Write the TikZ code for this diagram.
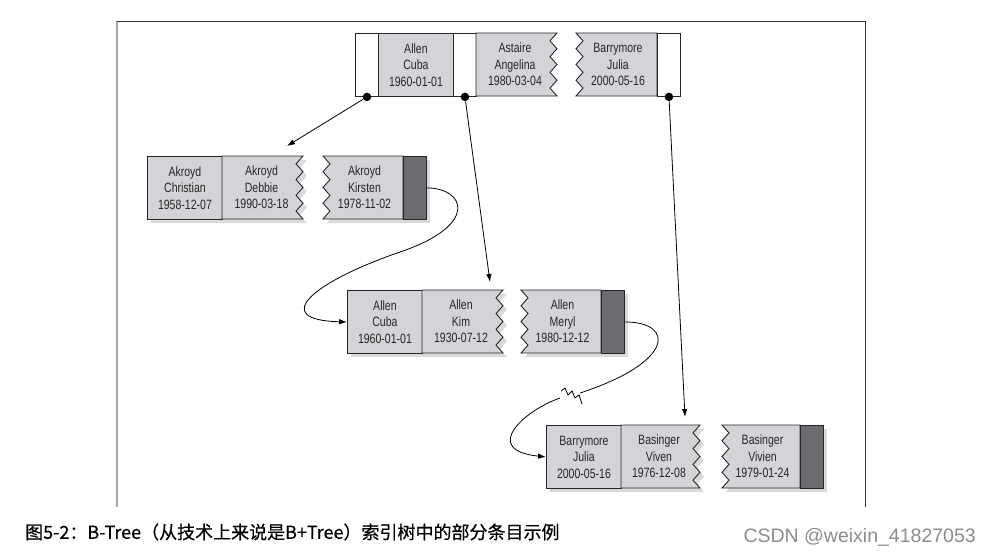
\documentclass[tikz,border=0pt]{standalone}
\usepackage{fontspec}
\usepackage{tikz}
\usetikzlibrary{arrows.meta, shadows}
\newfontfamily\cellfont[FakeStretch=0.78]{Liberation Sans}
\newfontfamily\markfont{Liberation Sans}
\newfontfamily\cjk[FakeBold=0.5]{Noto Sans CJK SC}
\definecolor{keygray}{HTML}{D2D4D7}
\definecolor{ptrdark}{HTML}{6A6C6F}

% key cell torn on the right: [style] left, tear x, top, bottom
\newcommand{\tornR}[5][]{%
  \filldraw[cellline, fill=keygray, #1] (#2,#4) -- ({#3+3},#4)
    \foreach \i/\d in {1/-4,2/3,3/-4,4/3,5/-4,6/3,7/-4} {-- ({#3+\d},{#4+\i*(#5-#4)/8})}
    -- ({#3+3},#5) -- (#2,#5) -- cycle;}
% key cell torn on the left: [style] tear x, right, top, bottom
\newcommand{\tornL}[5][]{%
  \filldraw[cellline, fill=keygray, #1] (#3,#4) -- ({#2-3},#4)
    \foreach \i/\d in {1/4,2/-3,3/4,4/-3,5/4,6/-3,7/4} {-- ({#2+\d},{#4+\i*(#5-#4)/8})}
    -- ({#2-3},#5) -- (#3,#5) -- cycle;}

\begin{document}
\begin{tikzpicture}[x=1pt, y=-1pt, >={Latex[length=8pt, width=5.5pt]},
    cellline/.style={draw=black!85, line width=0.9pt},
    shdw/.style={drop shadow={opacity=0.3, shadow xshift=4pt, shadow yshift=-4pt}},
    cellfontsize/.style={font=\cellfont\fontsize{13.5}{16.5}\selectfont, text=black!85},
    ptr/.style={cellline, fill=white, anchor=north west, minimum width=23pt, minimum height=63pt, inner sep=0pt},
    dark/.style={ptr, fill=ptrdark},
    key/.style={cellline, fill=keygray, anchor=north west, minimum width=75pt, minimum height=63pt, inner sep=0pt, align=center, cellfontsize},
    txt/.style={inner sep=0pt, align=center, cellfontsize},
    dot/.style={circle, fill=black, inner sep=0pt, minimum size=8.5pt},
    arr/.style={->, line width=0.8pt}]
    \useasboundingbox (0,0) rectangle (991,557);

    % Frame
    \draw[black!35, line width=1.2pt] (117,21) -- (117,507);
    \draw[black!80, line width=1pt] (117,21) -- (865,21) -- (865,507);

    % Root node
    \node[ptr] (t0) at (355,33) {};
    \node[key] (t1) at (378,33) {Allen\\Cuba\\1960-01-01};
    \node[ptr] (t2) at (453,33) {};
    \tornR{476}{554}{33}{96}
    \node[txt] (t3) at (515,64.5) {Astaire\\Angelina\\1980-03-04};
    \tornL{579}{657}{33}{96}
    \node[txt] (t4) at (618,64.5) {Barrymore\\Julia\\2000-05-16};
    \node[ptr] (t5) at (657,33) {};

    % Leaf: Akroyd
    \node[key, shdw] (a1) at (147,156) {Akroyd\\Christian\\1958-12-07};
    \tornR[shdw]{222}{300}{156}{219}
    \node[txt] (a2) at (261.5,187.5) {Akroyd\\Debbie\\1990-03-18};
    \tornL[shdw]{326}{403}{156}{219}
    \node[txt] (a3) at (364.5,187.5) {Akroyd\\Kirsten\\1978-11-02};
    \node[dark, shdw] (a4) at (403,156) {};

    % Leaf: Allen
    \node[key, shdw] (b1) at (347,290) {Allen\\Cuba\\1960-01-01};
    \tornR[shdw]{422}{500}{290}{353}
    \node[txt] (b2) at (461,321.5) {Allen\\Kim\\1930-07-12};
    \tornL[shdw]{524}{601}{290}{353}
    \node[txt] (b3) at (562.5,321.5) {Allen\\Meryl\\1980-12-12};
    \node[dark, shdw] (b4) at (601,290) {};

    % Leaf: Barrymore / Basinger
    \node[key, shdw] (c1) at (546,425) {Barrymore\\Julia\\2000-05-16};
    \tornR[shdw]{621}{697}{425}{488}
    \node[txt] (c2) at (659,456.5) {Basinger\\Viven\\1976-12-08};
    \tornL[shdw]{725}{800}{425}{488}
    \node[txt] (c3) at (762.5,456.5) {Basinger\\Vivien\\1979-01-24};
    \node[dark, shdw] (c4) at (800,425) {};

    % Pointers
    \node[dot] (d1) at (t0.south) {};
    \node[dot] (d2) at (t2.south) {};
    \node[dot] (d3) at (t5.south) {};
    \coordinate (e1) at (287,146);
    \coordinate (e2) at (490,282);
    \coordinate (e3) at (685,417);
    \draw[arr] (d1) -- (e1);
    \draw[arr] (d2) -- (e2);
    \draw[arr] (d3) -- (e3);

    % Leaf links
    \draw[arr] (a4.east) .. controls (465,188) and (480,225) .. (400,252)
        .. controls (310,283) and (270,320) .. (b1.west);
    \coordinate (g1) at (580,393);
    \coordinate (g2) at (560,398);
    \draw[line width=0.8pt] (b4.east) .. controls (675,322) and (675,362) .. (g1);
    \draw[line width=0.8pt] (561,391) -- (565,388) -- (568,395) -- (572,391) -- (575,398) -- (579,395) -- (582,404);
    \draw[arr] (g2) .. controls (525,410) and (480,450) .. (c1.west);

    % Caption
    \node[anchor=west, inner sep=0pt, font=\cjk\fontsize{18}{20}\selectfont] (cap) at (25,532)
        {图5-2：B-Tree（从技术上来说是B+Tree）索引树中的部分条目示例};
    \node[anchor=east, inner sep=0pt, text=black!45, font=\markfont\fontsize{19.5}{21}\selectfont] (mark) at (976,537)
        {CSDN @weixin\_41827053};
\end{tikzpicture}
\end{document}
